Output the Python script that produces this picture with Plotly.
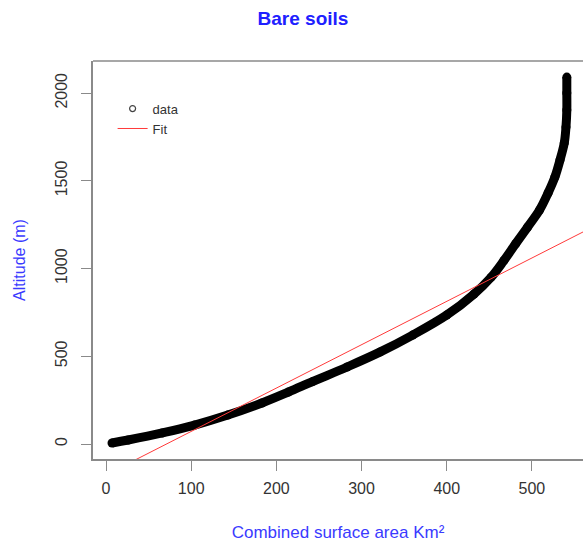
import numpy as np
import plotly.graph_objects as go

# Data (combined surface area km² vs altitude m)
area = [7, 26, 66, 104, 143, 183, 214, 243, 283, 322, 360, 400, 432, 452, 467, 481, 495,
        509, 519, 527, 533, 538, 540, 541, 541, 541]
altitude = [6, 23, 63, 108, 165, 234, 296, 357, 439, 525, 621, 735, 855, 950, 1045, 1142, 1237,
            1334, 1431, 1522, 1619, 1716, 1807, 1904, 2001, 2092]

# Linear fit coefficients (altitude = intercept + slope * area)
fit_intercept = -175.5
fit_slope = 2.472

x_range = [-15.3, 560.0]
y_range = [-85.5, 2183.6]
x_ticks = [0, 100, 200, 300, 400, 500]
y_ticks = [0, 500, 1000, 1500, 2000]

fit_x = np.array(x_range)
fit_y = fit_intercept + fit_slope * fit_x

fig = go.Figure()
# dense data band
fig.add_trace(go.Scatter(
    x=area, y=altitude, mode="lines+markers",
    line=dict(color="black", width=9, shape="spline", smoothing=1.0),
    marker=dict(color="black", size=9, symbol="circle"),
    showlegend=False, hoverinfo="x+y",
))
# legend entry for data (open circle)
fig.add_trace(go.Scatter(
    x=[None], y=[None], mode="markers", name="data",
    marker=dict(symbol="circle-open", size=6, color="#444", line=dict(width=1.2)),
))
fig.add_trace(go.Scatter(
    x=fit_x, y=fit_y, mode="lines", name="Fit",
    line=dict(color="#ff3a3a", width=1),
))

axis_col = "#8a8a8a"
fig.update_layout(
    width=583, height=544,
    margin=dict(l=93, r=0, t=61, b=85),
    paper_bgcolor="white", plot_bgcolor="white",
    font=dict(family="Liberation Sans, Arial, sans-serif", color="#333"),
    title=dict(text="<b>Bare soils</b>", x=303/583, xanchor="center", y=1-18/544, yanchor="middle",
               font=dict(size=19, color="#2020ff")),
    xaxis=dict(range=x_range, tickvals=x_ticks, showgrid=False, zeroline=False,
               showline=True, linecolor=axis_col, linewidth=1.5,
               ticks="outside", ticklen=10, tickcolor=axis_col, tickwidth=1,
               tickfont=dict(size=16, color="#333"), ticklabelstandoff=4,
               title=dict(text="Combined surface area Km²", font=dict(size=17, color="#3a3aff"), standoff=30)),
    yaxis=dict(range=y_range, tickvals=y_ticks, showgrid=False, zeroline=False,
               showline=True, linecolor=axis_col, linewidth=1.5,
               ticks="outside", ticklen=10, tickcolor=axis_col, tickwidth=1,
               tickangle=-90, tickfont=dict(size=16, color="#333"), ticklabelstandoff=8,
               title=dict(text="Altitude (m)", font=dict(size=16, color="#3a3aff"), standoff=23)),
    legend=dict(x=0.04, y=0.918, xanchor="left", yanchor="top", bgcolor="rgba(0,0,0,0)",
                font=dict(size=13, color="#333"), tracegroupgap=0, itemwidth=30),
    shapes=[dict(type="line", xref="paper", yref="paper", x0=0, x1=1, y0=1, y1=1,
                 line=dict(color=axis_col, width=1.5))],
)

fig.write_html("out.html")
